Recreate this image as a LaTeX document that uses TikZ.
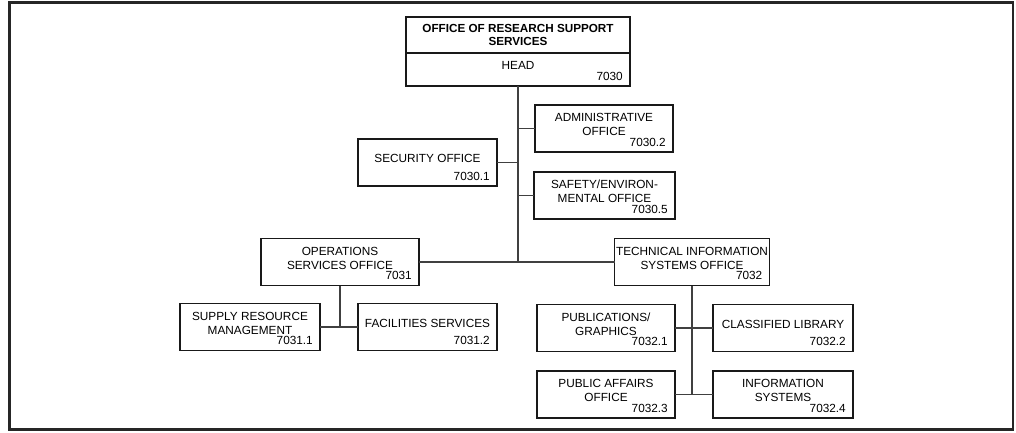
\documentclass[tikz,border=0pt]{standalone}
\usepackage{fontspec}
\setmainfont{Liberation Sans}
\usetikzlibrary{positioning}
\newcommand{\unitfont}{\fontsize{11.8}{14}\selectfont}
\newcommand{\titlefont}{\bfseries\fontsize{11.7}{12.4}\selectfont}
\tikzset{
  unit/.style={draw=black!90, line width=1.3pt, rectangle, inner sep=0pt,
    outer sep=0pt, minimum width=140pt, minimum height=47pt},
  nm/.style={anchor=center, align=center, yshift=4pt, font=\unitfont},
  num/.style={anchor=south east, inner xsep=7pt, inner ysep=5.5pt, font=\unitfont},
  link/.style={draw=black!75, line width=1.3pt},
}
\begin{document}
\begin{tikzpicture}[x=1pt, y=-1pt]
    \useasboundingbox (0,0) rectangle (1016,433);
    % --- outer frame ---
    \draw[line width=2.5pt, black!85] (9.5,2.5) rectangle (1013,429.5);

    % --- head of the office: title part over the head part ---
    \node[unit, minimum width=224pt, minimum height=36pt, align=center,
          font=\titlefont] (ors) at (518,35) {OFFICE OF RESEARCH SUPPORT\\SERVICES};
    \node[unit, minimum width=224pt, minimum height=33pt, below=0pt of ors,
          label={[nm]center:HEAD}, label={[num]south east:7030}] (head) {};

    % --- the units: name/centre/width/text/number ---
    \foreach \id/\x/\y/\w/\txt/\code in {%
        adm/604/128.5/138/{ADMINISTRATIVE\\OFFICE}/7030.2,
        sec/427.5/162.5/139/{SECURITY OFFICE}/7030.1,
        safe/604.5/195.5/141/{SAFETY/ENVIRON-\\MENTAL OFFICE}/7030.5,
        ops/340/262/158/{OPERATIONS\\SERVICES OFFICE}/7031,
        tech/692/262/155/{TECHNICAL INFORMATION\\SYSTEMS OFFICE}/7032,
        sup/250/327/140/{SUPPLY RESOURCE\\MANAGEMENT}/7031.1,
        fac/427.5/327/139/{FACILITIES SERVICES}/7031.2,
        pub/606/328/138/{PUBLICATIONS/\\GRAPHICS}/7032.1,
        cls/783/328/140/{CLASSIFIED LIBRARY}/7032.2,
        pa/606/394.5/138/{PUBLIC AFFAIRS\\OFFICE}/7032.3,
        info/783/394.5/140/{INFORMATION\\SYSTEMS}/7032.4} {
      \node[unit, minimum width=\w pt, label={[nm]center:\txt},
            label={[num]south east:\code}] (\id) at (\x,\y) {};
    }

    % --- connectors ---
    \coordinate (mid) at (head.south |- ops.east);
    \draw[link] (head.south) -- (mid);
    \draw[link] (ops.east) -- (tech.west);
    \draw[link] (adm.west) -- (adm.west -| mid);
    \draw[link] (sec.east) -- (sec.east -| mid);
    \draw[link] (safe.west) -- (safe.west -| mid);

    \draw[link] (ops.south) -- (ops.south |- sup.east);
    \draw[link] (sup.east) -- (fac.west);

    \draw[link] (tech.south) -- (tech.south |- pa.east);
    \draw[link] (pub.east) -- (cls.west);
    \draw[link] (pa.east) -- (info.west);
\end{tikzpicture}
\end{document}
